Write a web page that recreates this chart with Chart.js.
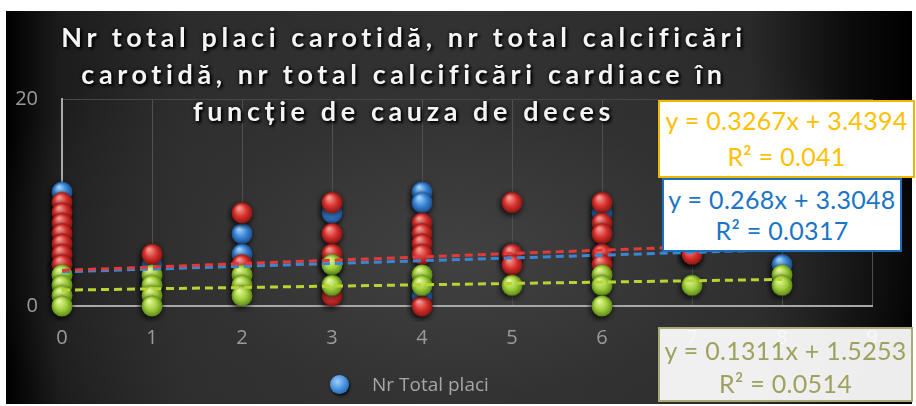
<!DOCTYPE html>
<html>
<head>
<meta charset="utf-8">
<script src="https://cdn.jsdelivr.net/npm/chart.js@4.4.1/dist/chart.umd.min.js"></script>
<style>
  html, body { margin: 0; padding: 0; background: #fff; }
  #wrap { position: relative; width: 916px; height: 406px; overflow: hidden; }
  #bg {
    position: absolute; left: 6px; top: 11px; width: 906px; height: 393px;
    background:
      radial-gradient(ellipse 55% 65% at 50% 62%, rgba(66,66,66,0.95) 0%, rgba(52,52,52,0.6) 55%, rgba(0,0,0,0) 100%),
      linear-gradient(to right, #000 0%, #1c1c1c 6%, #2c2c2c 20%, #323232 50%, #2a2a2a 82%, #0c0c0c 93%, #000 100%);
  }
  #chart { position: absolute; left: 0; top: 0; }
  .title {
    position: absolute; left: 2px; top: 18px; width: 804px;
    text-align: center; color: #f4f4f4; font: bold 27px Lato, sans-serif;
    letter-spacing: 4.6px; line-height: 37px;
    text-shadow: 2px 2px 3px #000, 0 0 4px rgba(0,0,0,0.8);
  }
  .eq {
    position: absolute; box-sizing: border-box; background: #fff;
    text-align: center; font-family: Lato, sans-serif; font-size: 25px; letter-spacing: 0.3px;
  }
  #eqRed { left: 658px; top: 100px; width: 257px; height: 78px; border: 2px solid #f2b600; color: #ffc000; line-height: 36px; }
  #eqBlue { left: 662px; top: 178px; width: 240px; height: 74px; border: 2px solid #1c6fbe; color: #1a75c4; line-height: 31px; padding-top: 4px; }
  #eqGreen { left: 658px; top: 327px; width: 255px; height: 75px; border: 2px solid #a9ab70; color: #9fa25f; line-height: 33px; padding-top: 5px; background: rgba(255,255,255,0.93); }
  #legend { position: absolute; left: 330px; top: 371px; display: flex; align-items: center; }
  .legend-color { width: 19px; height: 19px; border-radius: 50%; margin-right: 23px; box-shadow: 1px 2px 3px rgba(0,0,0,0.8); }
  .legend-item { display: flex; align-items: center; color: #a6a6a6; font: 19px "Open Sans", sans-serif; }
</style>
</head>
<body>
<div id="wrap">
  <div id="bg"></div>
  <canvas id="chart" width="916" height="406"></canvas>
  <div class="title">Nr total placi carotidă, nr total calcificări<br>carotidă, nr total calcificări cardiace în<br>funcție de cauza de deces</div>
  <div class="eq" id="eqRed">y = 0.3267x + 3.4394<br>R² = 0.041</div>
  <div class="eq" id="eqBlue">y = 0.268x + 3.3048<br>R² = 0.0317</div>
  <div class="eq" id="eqGreen">y = 0.1311x + 1.5253<br>R² = 0.0514</div>
  <div id="legend"></div>
</div>
<script>
// tick labels
const xTicks = [0, 1, 2, 3, 4, 5, 6, 7, 8, 9];
const yTicks = [0, 20];

// cauza de deces (x) -> valori, pe fiecare coloana
const causes = [0, 1, 2, 3, 4, 5, 6, 7, 8];
const placi = [[11, 4, 3], [4, 2], [7, 5], [9, 4], [11, 10, 1], [5], [9, 5], [5], [4]];
const calcCarotida = [[10, 9, 8, 7, 6, 5, 4], [5], [9, 4], [10, 7, 5, 1], [8, 7, 6, 5, 0], [10, 5, 4], [10, 8, 7, 5, 4], [5], []];
const calcCardiace = [[3, 2, 1, 0], [3, 2, 1, 0], [3, 2, 1], [4, 2], [3, 2], [2], [3, 2, 0], [2], [3, 2]];

// linii de tendinta (capete la x = 0 si x = 8)
const trendX = [0, 8];
const trendCarotida = [3.44, 6.05];
const trendPlaci = [3.30, 5.45];
const trendCardiace = [1.53, 2.57];

const seriesNames = ['Nr Total placi', 'Nr total calcificări carotidă', 'Nr total calcificări cardiace'];

function toPoints(cols) {
    const pts = [];
    cols.forEach((vals, i) => vals.forEach(v => pts.push({ x: causes[i], y: v })));
    return pts;
}
function toLine(ys) {
    return trendX.map((x, i) => ({ x: x, y: ys[i] }));
}

// sfera 3D desenata o data, folosita ca pointStyle
function makeSphere(light, base, dark) {
    const c = document.createElement('canvas');
    c.width = 32; c.height = 32;
    const g = c.getContext('2d');
    g.shadowColor = 'rgba(0,0,0,0.9)';
    g.shadowBlur = 6;
    g.shadowOffsetX = -1;
    g.shadowOffsetY = 2;
    const grad = g.createRadialGradient(13, 11, 1, 16, 16, 10.5);
    grad.addColorStop(0, light);
    grad.addColorStop(0.55, base);
    grad.addColorStop(1, dark);
    g.fillStyle = grad;
    g.beginPath();
    g.arc(16, 16, 10.5, 0, Math.PI * 2);
    g.fill();
    return c;
}
const blueBall = makeSphere('#9fd0fa', '#3a86d6', '#1d4f8e');
const redBall = makeSphere('#f59a92', '#d8332f', '#8e1512');
const greenBall = makeSphere('#e2f59a', '#a2d03c', '#5e8a18');

function scatterSet(label, cols, ball, order) {
    return {
        label: label,
        data: toPoints(cols),
        pointStyle: ball,
        pointRadius: 10,
        backgroundColor: 'transparent',
        borderColor: 'transparent',
        order: order,
        clip: false
    };
}
function trendSet(ys, color, order) {
    return {
        data: toLine(ys),
        showLine: true,
        pointRadius: 0,
        borderColor: color,
        borderWidth: 3,
        borderDash: [8, 5],
        order: order,
        clip: false
    };
}

const ctx = document.getElementById('chart').getContext('2d');
const myChart = new Chart(ctx, {
    type: 'scatter',
    data: {
        datasets: [
            scatterSet(seriesNames[0], placi, blueBall, 5),
            scatterSet(seriesNames[1], calcCarotida, redBall, 4),
            scatterSet(seriesNames[2], calcCardiace, greenBall, 3),
            trendSet(trendPlaci, '#3b86d2', 2),
            trendSet(trendCarotida, '#e23a3a', 1),
            trendSet(trendCardiace, '#b9d332', 0)
        ]
    },
    options: {
        responsive: false,
        animation: false,
        devicePixelRatio: 1,
        layout: { padding: { left: 0, right: 44, top: 99, bottom: 0 } },
        plugins: {
            legend: { display: false },
            tooltip: { enabled: false },
            title: { display: false }
        },
        scales: {
            x: {
                type: 'linear',
                min: 0,
                max: 9,
                afterBuildTicks: s => { s.ticks = xTicks.map(v => ({ value: v })); },
                afterFit: s => { s.height = 100; },
                ticks: { color: '#9b9b9b', font: { family: 'Open Sans', size: 20 }, padding: 20 },
                grid: { color: '#505050', lineWidth: 1, drawTicks: false },
                border: { color: '#a8a8a8', width: 2 }
            },
            y: {
                min: 0,
                max: 20,
                afterBuildTicks: s => { s.ticks = yTicks.map(v => ({ value: v })); },
                afterFit: s => { s.width = 62; },
                ticks: { color: '#9b9b9b', font: { family: 'Open Sans', size: 20 }, padding: 24 },
                grid: { color: '#474747', lineWidth: 1, drawTicks: false },
                border: { color: '#a8a8a8', width: 2 }
            }
        }
    }
});

// legenda proprie (doar prima serie este vizibila in original)
const legendContainer = document.getElementById('legend');
const legendItem = document.createElement('div');
legendItem.className = 'legend-item';
const colorBox = document.createElement('div');
colorBox.className = 'legend-color';
colorBox.style.background = 'radial-gradient(circle at 40% 35%, #9fd0fa 0%, #3a86d6 55%, #1d4f8e 100%)';
legendItem.appendChild(colorBox);
legendItem.appendChild(document.createTextNode(seriesNames[0]));
legendContainer.appendChild(legendItem);
</script>
</body>
</html>
